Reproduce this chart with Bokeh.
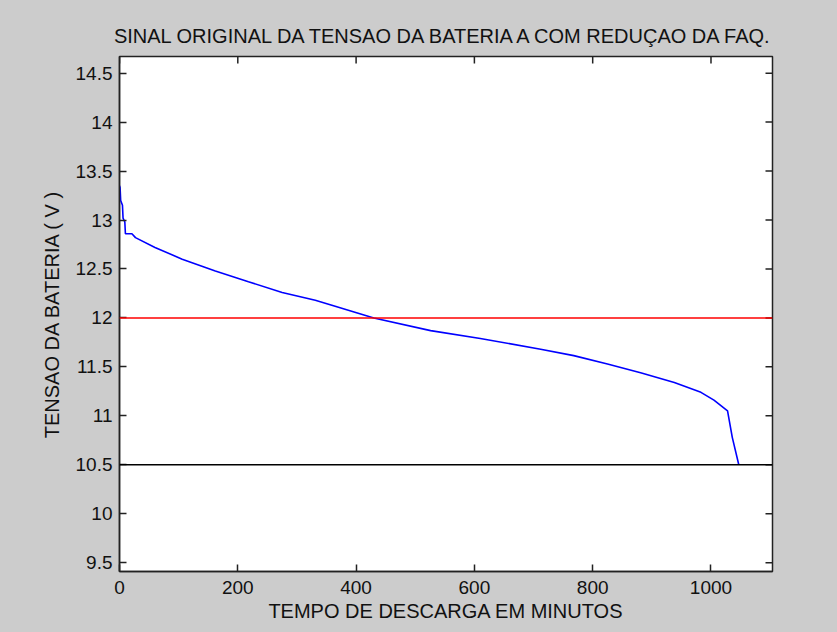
import math
from bokeh.plotting import figure
from bokeh.models import FixedTicker, Range1d, Span
from bokeh.embed import file_html
from bokeh.resources import INLINE

# ---- data ----
tempo = [0, 1, 2, 5, 6, 9, 10, 21, 27, 60, 106, 162, 218, 275, 331, 359, 430,
         526, 610, 712, 768, 825, 881, 938, 983, 1005, 1028, 1036, 1047]
tensao = [13.35, 13.33, 13.20, 13.15, 13.02, 12.98, 12.86, 12.86, 12.82, 12.72,
          12.60, 12.48, 12.37, 12.26, 12.18, 12.13, 12.00, 11.87, 11.79, 11.68,
          11.615, 11.53, 11.44, 11.34, 11.24, 11.16, 11.05, 10.78, 10.50]
limite_superior = [12.0]
limite_inferior = [10.5]
x_ticks = [0, 200, 400, 600, 800, 1000]
y_ticks = [9.5, 10, 10.5, 11, 11.5, 12, 12.5, 13, 13.5, 14, 14.5]
x_lim = [0, 1104]
y_lim = [9.41, 14.67]

titulo = "SINAL ORIGINAL DA TENSAO DA BATERIA A COM REDUÇAO DA FAQ."
rotulo_x = "TEMPO DE DESCARGA EM MINUTOS"
rotulo_y = "TENSAO DA BATERIA ( V )"

FONT = "Liberation Sans"
GRAY = "#cccccc"
INK = "#222222"

p = figure(frame_width=653, frame_height=515,
           min_border_left=119, min_border_right=65,
           min_border_top=56, min_border_bottom=61,
           x_range=Range1d(*x_lim), y_range=Range1d(*y_lim),
           output_backend="svg", toolbar_location=None,
           title=titulo)

p.background_fill_color = "white"
p.border_fill_color = GRAY
p.outline_line_color = INK
p.outline_line_width = 1.5
p.grid.visible = False

p.title.align = "center"
p.title.text_font = FONT
p.title.text_font_size = "20px"
p.title.text_font_style = "normal"
p.title.text_color = "#111111"
p.title.standoff = 19

for ax in (p.xaxis[0], p.yaxis[0]):
    ax.axis_line_color = INK
    ax.axis_line_width = 1.5
    ax.major_tick_line_color = INK
    ax.major_tick_line_width = 1.5
    ax.major_tick_in = 7
    ax.major_tick_out = 0
    ax.minor_tick_line_color = None
    ax.major_label_text_font = FONT
    ax.major_label_text_font_size = "19px"
    ax.major_label_text_color = "#111111"
    ax.axis_label_text_font = FONT
    ax.axis_label_text_font_size = "20px"
    ax.axis_label_text_font_style = "normal"
    ax.axis_label_text_color = "#111111"

p.xaxis.ticker = FixedTicker(ticks=x_ticks)
p.yaxis.ticker = FixedTicker(ticks=y_ticks)
p.xaxis.axis_label = rotulo_x
p.yaxis.axis_label = rotulo_y
p.xaxis.major_label_standoff = 9
p.xaxis.axis_label_standoff = 3
p.yaxis.major_label_standoff = 7
p.yaxis.axis_label_standoff = 10

# mirrored inward ticks on top and right edges (clipped half-dashes)
p.scatter(x_ticks, [y_lim[1]] * len(x_ticks), marker="dash", size=14,
          angle=math.pi / 2, line_color=INK, line_width=1.5)
p.scatter([x_lim[1]] * len(y_ticks), y_ticks, marker="dash", size=14,
          line_color=INK, line_width=1.5)

for val in limite_superior:
    p.add_layout(Span(location=val, dimension="width", line_color="#ff0000", line_width=1.5))
for val in limite_inferior:
    p.add_layout(Span(location=val, dimension="width", line_color="#000000", line_width=1.5))

p.line(tempo, tensao, line_color="#0000ff", line_width=1.6)

html = file_html(p, INLINE)
html = html.replace("</head>", "<style>body{background:#cccccc;}</style></head>", 1)
open("out.html", "w").write(html)
